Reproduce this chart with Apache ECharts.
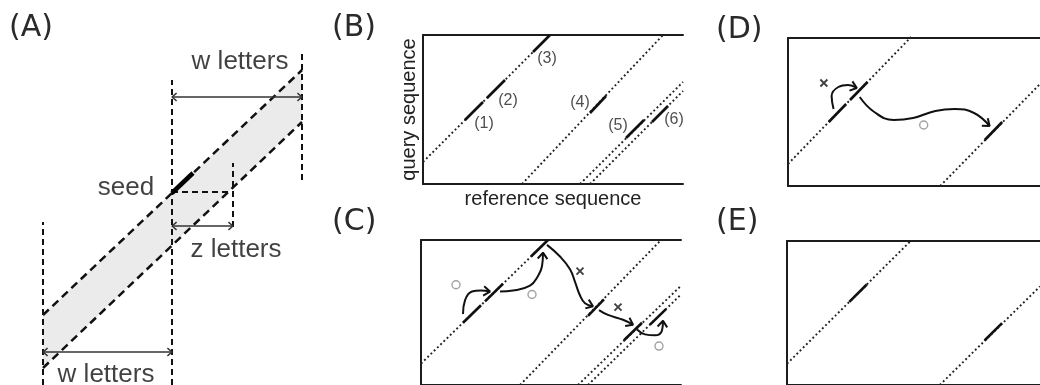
<!DOCTYPE html>
<html>
<head>
<meta charset="utf-8">
<script src="https://cdn.jsdelivr.net/npm/echarts@6/dist/echarts.min.js"></script>
<style>
html, body { margin: 0; padding: 0; background: #fff; }
#main { width: 1040px; height: 385px; }
</style>
</head>
<body>
<div id="main"></div>
<script>
// ---- panel A (units = px, y counted up from the bottom) ----
var bandTop = [[43, 70], [302, 315]];
var bandBottom = [[43, 17], [302, 263]];
var guideLines = [[[43, 0], [43, 163]], [[172, 0], [172, 305]], [[302, 205], [302, 335]], [[233, 158], [233, 222]]];
var seedLine = [[172, 192], [193, 212]];
var zLine = [[172, 193], [233, 193]];
var spanArrows = [[[172, 288], [302, 288]], [[172, 159], [233, 159]], [[43, 33], [172, 33]]];
var aTexts = [
  { name: 'w letters', value: [240, 323] },
  { name: 'seed', value: [126, 197] },
  { name: 'z letters', value: [236, 135] },
  { name: 'w letters', value: [106, 10] }
];

// ---- panels B-E (reference position x query position) ----
var diag1 = [[0, 22], [127, 149]];
var diag2 = [[99, 0], [240, 149]];
var diag3 = [[157, 0], [260, 102]];
var diag4 = [[167, 0], [260, 93]];
var hit1 = [[42, 64], [60, 82]];
var hit2 = [[64, 86], [82, 104]];
var hit3 = [[110, 132], [127, 149]];
var hit4 = [[167, 71], [183, 88]];
var hit5 = [[203, 46], [221, 64]];
var hit6 = [[229, 62], [245, 78]];
var hitLabels = [
  { name: '(1)', value: [61, 60] },
  { name: '(2)', value: [85, 83] },
  { name: '(3)', value: [124, 125] },
  { name: '(4)', value: [157, 81] },
  { name: '(5)', value: [195, 58] },
  { name: '(6)', value: [251, 64] }
];

// panel C extension steps
var cArrows = [
  [[42, 73], [44, 87], [51, 96], [60, 97], [69, 96]],
  [[79, 96], [92, 97], [109, 102], [117, 112], [121, 122], [122, 136]],
  [[126, 144], [139, 132], [149, 119], [154, 106], [159, 92], [164, 84], [172, 81]],
  [[178, 77], [187, 72], [202, 67], [212, 62]],
  [[216, 57], [224, 52], [234, 51], [241, 56], [242, 66]]
];
var cOk = [[35, 103], [111, 93], [238, 40]];
var cFail = [[159, 117], [197, 80]];

// panel D
var dArrows = [
  [[47, 77], [45, 90], [52, 99], [62, 101], [71, 98]],
  [[74, 89], [89, 74], [109, 66], [129, 68], [152, 75], [172, 77], [192, 73], [208, 60]]
];
var dOk = [[140, 61]];
var dFail = [[37, 103]];

var W = 260, H = 149;
var grids = [], xAxes = [], yAxes = [], series = [];

function addPanel(left, top, w, h, frame, bottomLine, names) {
  var gi = grids.length;
  grids.push({ left: left, top: top, width: w, height: h });
  var line = { show: frame, onZero: false, lineStyle: { color: '#1c1c1c', width: 2 } };
  var nameStyle = { fontSize: 20, color: '#222', fontFamily: 'Liberation Sans' };
  var xi = xAxes.length;
  xAxes.push({
    type: 'value', gridIndex: gi, min: 0, max: w, position: 'bottom',
    axisLine: { show: bottomLine, onZero: false, lineStyle: line.lineStyle },
    axisTick: { show: false }, axisLabel: { show: false }, splitLine: { show: false },
    name: names ? 'reference sequence' : '', nameLocation: 'middle', nameGap: 5, nameTextStyle: nameStyle
  });
  xAxes.push({
    type: 'value', gridIndex: gi, min: 0, max: w, position: 'top',
    axisLine: line, axisTick: { show: false }, axisLabel: { show: false }, splitLine: { show: false }
  });
  var yi = yAxes.length;
  yAxes.push({
    type: 'value', gridIndex: gi, min: 0, max: h, position: 'left',
    axisLine: line, axisTick: { show: false }, axisLabel: { show: false }, splitLine: { show: false },
    name: names ? 'query sequence' : '', nameLocation: 'middle', nameGap: 4, nameTextStyle: nameStyle
  });
  return { xi: xi, yi: yi };
}

function poly(p, pts, style, smooth) {
  series.push({
    type: 'line', xAxisIndex: p.xi, yAxisIndex: p.yi, data: pts, symbol: 'none',
    smooth: smooth || false, lineStyle: style, silent: true, animation: false, clip: false
  });
}

// open chevron at tip, pointing away from "from"
function head(tip, from, len, ang) {
  var dx = from[0] - tip[0], dy = from[1] - tip[1];
  var d = Math.sqrt(dx * dx + dy * dy);
  dx /= d; dy /= d;
  var c = Math.cos(ang), s = Math.sin(ang);
  return [
    [tip[0] + len * (dx * c - dy * s), tip[1] + len * (dx * s + dy * c)],
    tip,
    [tip[0] + len * (dx * c + dy * s), tip[1] + len * (-dx * s + dy * c)]
  ];
}

function marks(p, pts, kind) {
  series.push({
    type: 'scatter', xAxisIndex: p.xi, yAxisIndex: p.yi, data: pts, silent: true, animation: false,
    symbol: kind == 'ok' ? 'circle' : 'path://M0,0L10,10M10,0L0,10',
    symbolSize: kind == 'ok' ? 8 : 7,
    itemStyle: { color: 'transparent', borderColor: kind == 'ok' ? '#8a8a8a' : '#111', borderWidth: kind == 'ok' ? 1.4 : 1.9 }
  });
}

function texts(p, items, size, col) {
  series.push({
    type: 'scatter', xAxisIndex: p.xi, yAxisIndex: p.yi, data: items, silent: true, animation: false,
    symbolSize: 1, itemStyle: { color: 'transparent' },
    label: { show: true, position: 'inside', formatter: '{b}', color: col, fontSize: size,
      fontFamily: 'Liberation Sans', textBorderWidth: 0 }
  });
}

var dotted = { color: '#222', width: 1.9, type: [1.9, 2.6] };
var solid = { color: '#111', width: 2.6 };
var curve = { color: '#111', width: 2 };

function curvedArrow(p, pts) {
  poly(p, pts, curve, 0.45);
  poly(p, head(pts[pts.length - 1], pts[pts.length - 2], 8, 0.65), curve);
}

// ---- panel A ----
var pa = addPanel(0, 0, 340, 385, false, false, false);
series.push({
  type: 'custom', xAxisIndex: pa.xi, yAxisIndex: pa.yi, data: [[0, 0]], silent: true, animation: false,
  renderItem: function (params, api) {
    var pts = [bandTop[0], bandTop[1], bandBottom[1], bandBottom[0]].map(function (q) { return api.coord(q); });
    return { type: 'polygon', shape: { points: pts }, style: { fill: '#ebebeb' } };
  }
});
guideLines.forEach(function (g) { poly(pa, g, { color: '#111', width: 2, type: [6, 4] }); });
poly(pa, bandTop, { color: '#111', width: 2.5, type: [8, 5] });
poly(pa, bandBottom, { color: '#111', width: 2.5, type: [8, 5] });
poly(pa, zLine, { color: '#111', width: 2, type: [6, 4] });
poly(pa, seedLine, { color: '#000', width: 4.5 });
spanArrows.forEach(function (s) {
  var st = { color: '#333', width: 1.4 };
  poly(pa, s, st);
  poly(pa, head(s[0], s[1], 6, 0.7), st);
  poly(pa, head(s[1], s[0], 6, 0.7), st);
});
texts(pa, aTexts, 26, '#111');

// ---- panel B ----
var pb = addPanel(423, 35, W, H, true, true, true);
[diag1, diag2, diag3, diag4].forEach(function (d) { poly(pb, d, dotted); });
[hit1, hit2, hit3, hit4, hit5, hit6].forEach(function (h) { poly(pb, h, solid); });
texts(pb, hitLabels, 16, '#222');

// ---- panel C ----
var pc = addPanel(421, 240, W, H, true, true, false);
[diag1, diag2, diag3, diag4].forEach(function (d) { poly(pc, d, dotted); });
[hit1, hit2, hit3, hit4, hit5, hit6].forEach(function (h) { poly(pc, h, solid); });
cArrows.forEach(function (a) { curvedArrow(pc, a); });
marks(pc, cOk, 'ok');
marks(pc, cFail, 'fail');

// ---- panel D ----
var pd = addPanel(788, 38, W, 148, true, true, false);
[diag1, diag3].forEach(function (d) { poly(pd, d, dotted); });
[hit1, hit2, hit5].forEach(function (h) { poly(pd, h, solid); });
dArrows.forEach(function (a) { curvedArrow(pd, a); });
marks(pd, dOk, 'ok');
marks(pd, dFail, 'fail');

// ---- panel E ----
var pe = addPanel(787, 241, W, H, true, true, false);
[diag1, diag3].forEach(function (d) { poly(pe, d, dotted); });
[hit2, hit5].forEach(function (h) { poly(pe, h, solid); });

var panelTags = [['(A)', 9, 28], ['(B)', 332, 28], ['(C)', 332, 222], ['(D)', 716, 30], ['(E)', 716, 222]];

var chart = echarts.init(document.getElementById('main'));
chart.setOption({
  animation: false,
  backgroundColor: '#fff',
  grid: grids,
  xAxis: xAxes,
  yAxis: yAxes,
  series: series,
  graphic: panelTags.map(function (t) {
    return { type: 'text', x: t[1], y: t[2], silent: true,
      style: { text: t[0], font: '30px "DejaVu Sans"', fill: '#2a2a2a', verticalAlign: 'middle' } };
  })
});
</script>
</body>
</html>
